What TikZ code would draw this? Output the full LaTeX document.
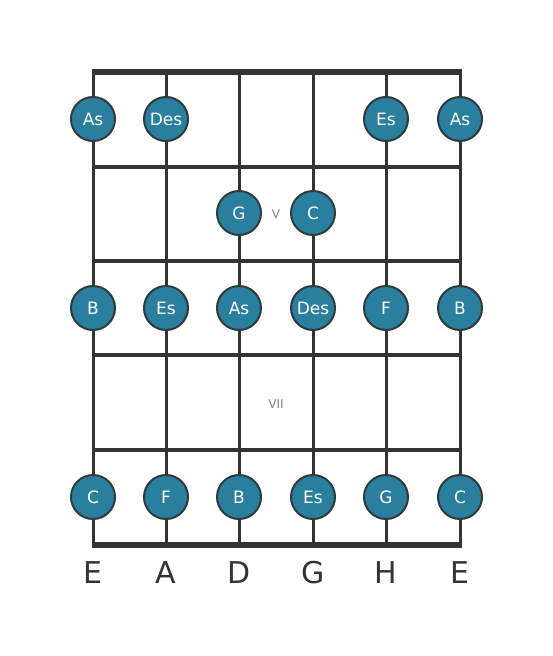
\documentclass[tikz,border=0pt]{standalone}
\usepackage{fontspec}
\setmainfont{DejaVu Sans}
\definecolor{dotfill}{HTML}{2A7F9E}
\definecolor{dotline}{HTML}{2E3A3C}
\definecolor{wire}{HTML}{333333}
\begin{document}
\begin{tikzpicture}[x=1pt,y=-1pt,
note/.style={
% the dots:
circle,
fill=dotfill,
draw=dotline,
line width=2pt,
minimum size=44pt,
inner sep=0pt,
text=white,
font=\fontsize{17}{17}\selectfont
},
fretnum/.style={
text=gray,
font=\fontsize{12}{12}\selectfont
},
tuning/.style={
text=wire,
font=\fontsize{30}{30}\selectfont
}
]
\useasboundingbox (0,0) rectangle (553,656);
% strings
\foreach \s/\x in {1/93,2/166,3/239,4/313,5/386,6/460} {
\coordinate (top\s) at (\x,72);
\coordinate (bot\s) at (\x,545);
\draw [wire,line width=3pt] (top\s) -- (bot\s);
}
% frets
\draw [wire,line width=5.5pt] ([xshift=-1.5pt]top1) -- ([xshift=1.5pt]top6);
\foreach \f/\y in {1/167,2/261,3/355,4/450} {
\coordinate (fl\f) at (93,\y);
\coordinate (fr\f) at (460,\y);
\draw [wire,line width=4.5pt] ([xshift=-1.5pt]fl\f) -- ([xshift=1.5pt]fr\f);
}
\draw [wire,line width=5.5pt] ([xshift=-1.5pt]bot1) -- ([xshift=1.5pt]bot6);
% fret numbers
\node (fretV) [fretnum] at (276,214) {V};
\node (fretVII) [fretnum] at (276,404) {VII};
% notes
\node (n11) [note] at (93,119) {As};
\node (n12) [note] at (166,119) {Des};
\node (n15) [note] at (386,119) {Es};
\node (n16) [note] at (460,119) {As};
\node (n23) [note] at (239,213) {G};
\node (n24) [note] at (313,213) {C};
\node (n31) [note] at (93,308) {B};
\node (n32) [note] at (166,308) {Es};
\node (n33) [note] at (239,308) {As};
\node (n34) [note] at (313,308) {Des};
\node (n35) [note] at (386,308) {F};
\node (n36) [note] at (460,308) {B};
\node (n51) [note] at (93,497) {C};
\node (n52) [note] at (166,497) {F};
\node (n53) [note] at (239,497) {B};
\node (n54) [note] at (313,497) {Es};
\node (n55) [note] at (386,497) {G};
\node (n56) [note] at (460,497) {C};
% tuning
\foreach \s/\x/\t in {1/93/E,2/166/A,3/239/D,4/313/G,5/386/H,6/460/E}
\node (tune\s) [tuning] at (\x,573) {\t};
\end{tikzpicture}
\end{document}
